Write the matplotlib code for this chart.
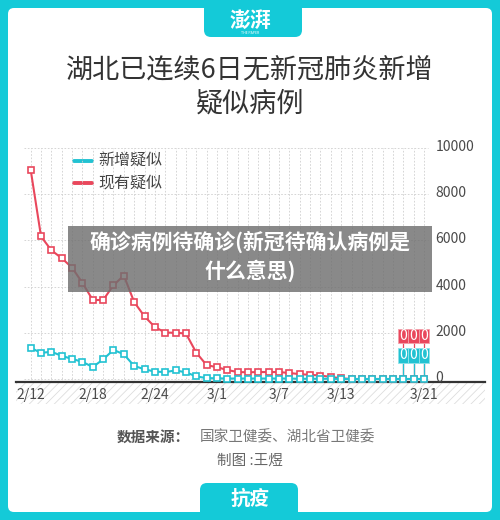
import matplotlib.pyplot as plt
import matplotlib.patches as mpatches
from matplotlib.lines import Line2D
import numpy as np

plt.rcParams['font.family'] = ['Noto Sans CJK SC', 'DejaVu Sans']
plt.rcParams['hatch.linewidth'] = 0.6

# data (Hubei, 2/12 - 3/21)
days = ['2/12', '2/13', '2/14', '2/15', '2/16', '2/17', '2/18', '2/19', '2/20', '2/21',
        '2/22', '2/23', '2/24', '2/25', '2/26', '2/27', '2/28', '2/29', '3/1', '3/2',
        '3/3', '3/4', '3/5', '3/6', '3/7', '3/8', '3/9', '3/10', '3/11', '3/12',
        '3/13', '3/14', '3/15', '3/16', '3/17', '3/18', '3/19', '3/20', '3/21']
new_suspected = [1350, 1130, 1180, 1000, 870, 740, 520, 850, 1260, 1070,
                 565, 420, 320, 300, 370, 290, 110, 40, 30, 20,
                 20, 20, 20, 20, 20, 20, 10, 10, 10, 10,
                 0, 0, 0, 0, 0, 0, 0, 0, 0]
existing_suspected = [9050, 6170, 5570, 5230, 4820, 4160, 3420, 3420, 4060, 4480,
                      3330, 2710, 2250, 2010, 2000, 1970, 1140, 600, 510, 390,
                      300, 290, 300, 300, 300, 260, 210, 180, 150, 90,
                      30, 0, 0, 0, 0, 0, 0, 0, 0]
tick_days = ['2/12', '2/18', '2/24', '3/1', '3/7', '3/13', '3/21']
y_ticks = [0, 2000, 4000, 6000, 8000, 10000]
labelled_days = ['3/19', '3/20', '3/21']

TEAL = '#14CAD8'
RED = '#E9475C'
CYAN = '#22C2D2'

W, H = 500, 520
fig = plt.figure(figsize=(5, 5.2), dpi=100)
fig.patch.set_facecolor(TEAL)

# background layer in pixel coordinates
bg = fig.add_axes([0, 0, 1, 1], zorder=-1)
bg.set_xlim(0, W)
bg.set_ylim(H, 0)
bg.axis('off')
bg.add_patch(mpatches.FancyBboxPatch((8, 8), 484, 504, boxstyle='round,pad=0,rounding_size=6',
                                     fc='white', ec='none'))
# top tab
bg.add_patch(mpatches.FancyBboxPatch((204, 2), 98, 35, boxstyle='round,pad=0,rounding_size=7',
                                     fc=TEAL, ec='none'))
bg.add_patch(mpatches.Rectangle((196, 0), 114, 8, fc=TEAL, ec='none'))
bg.text(250, 20, '澎湃', color='white', fontsize=15, fontweight='bold', style='italic',
        ha='center', va='center')
bg.text(250, 33, 'THE PAPER', color='white', fontsize=2.5, ha='center', va='center')
# bottom tab
bg.add_patch(mpatches.FancyBboxPatch((200, 483), 98, 40, boxstyle='round,pad=0,rounding_size=7',
                                     fc=TEAL, ec='none'))
bg.text(250, 499, '抗疫', color='white', fontsize=14, fontweight='bold',
        ha='center', va='center')

# title
bg.text(250, 71, '湖北已连续6日无新冠肺炎新增', color='#333333', fontsize=19.5,
        fontweight='medium', ha='center', va='center')
bg.text(250, 104, '疑似病例', color='#333333', fontsize=19.5,
        fontweight='medium', ha='center', va='center')

# hatched band under the axis
bg.add_patch(mpatches.Rectangle((16, 382), 469, 22, fc='white', ec='#dddddd', lw=0, hatch='////'))

# legend
bg.add_line(Line2D([74, 92], [161, 161], color=CYAN, lw=2.8, solid_capstyle='round'))
bg.add_line(Line2D([74, 92], [183, 183], color=RED, lw=2.8, solid_capstyle='round'))
bg.text(98, 161, '新增疑似', color='#444444', fontsize=11.5, va='center')
bg.text(98, 183, '现有疑似', color='#444444', fontsize=11.5, va='center')

# footer
bg.text(190, 437, '数据来源：', color='#555555', fontsize=10.5, fontweight='bold',
        ha='right', va='center')
bg.text(200, 437, '国家卫健委、湖北省卫健委', color='#777777', fontsize=10.5,
        ha='left', va='center')
bg.text(250, 461, '制图 :王煜', color='#666666', fontsize=10.5, ha='center', va='center')

# chart
x = np.arange(len(days))
ax = fig.add_axes([16 / W, 1 - 382 / H, 469 / W, 234 / H], zorder=1)
ax.patch.set_alpha(0)
ax.set_xlim(-1.42, 43.9)
ax.set_ylim(-130, 10000)
for s in ['top', 'left', 'right']:
    ax.spines[s].set_visible(False)
ax.spines['bottom'].set_color('#333333')
ax.spines['bottom'].set_linewidth(1.6)
ax.set_yticks([])
ax.set_xticks([days.index(d) for d in tick_days], tick_days)
ax.tick_params(axis='x', length=0, pad=4, labelsize=10, labelcolor='#4a4a4a')

ax.vlines(x, -130, 10000, colors='#cfcfcf', lw=0.6, linestyles=(0, (2, 2)), zorder=0)
ax.hlines(y_ticks, -0.6, 38.4, colors='#cfcfcf', lw=0.6, linestyles=(0, (2, 2)), zorder=0)
for v in y_ticks:
    ax.text(39.1, v + 40, str(v), fontsize=10, color='#4a4a4a', ha='left', va='center')

ax.plot(x, existing_suspected, color=RED, lw=1.5, marker='s', ms=4.5, mfc='white',
        mew=1.2, zorder=3)
ax.plot(x, new_suspected, color=CYAN, lw=1.5, marker='s', ms=4.5, mfc='white',
        mew=1.2, zorder=4)

# value labels on the last three days
box_h = 640
for d in labelled_days:
    i = days.index(d)
    ax.plot([i, i], [existing_suspected[i], 1860 - box_h / 2], color=RED, lw=0.9, zorder=2)
    ax.plot([i, i], [new_suspected[i], 1020 - box_h / 2], color=CYAN, lw=0.9, zorder=2)
    ax.add_patch(mpatches.Rectangle((i - 0.5, 1860 - box_h / 2), 1, box_h, fc=RED,
                                    ec='#f3a0aa', lw=0.6, zorder=5))
    ax.add_patch(mpatches.Rectangle((i - 0.5, 1020 - box_h / 2), 1, box_h, fc=CYAN,
                                    ec='#8fe3ea', lw=0.6, zorder=5))
    ax.text(i, 1860, str(existing_suspected[i]), color='white', fontsize=10,
            ha='center', va='center', zorder=6)
    ax.text(i, 1020, str(new_suspected[i]), color='white', fontsize=10,
            ha='center', va='center', zorder=6)

# gray overlay caption
ov = fig.add_axes([0, 0, 1, 1], zorder=5)
ov.set_xlim(0, W)
ov.set_ylim(H, 0)
ov.axis('off')
ov.add_patch(mpatches.Rectangle((68, 226), 364, 66, fc='#6f6f6f', alpha=0.82, ec='none'))
ov.text(250, 242, '确诊病例待确诊(新冠待确认病例是', color='white', fontsize=15,
        fontweight='bold', ha='center', va='center')
ov.text(250, 271, '什么意思)', color='white', fontsize=15,
        fontweight='bold', ha='center', va='center')

fig.savefig('out.png', dpi=100, facecolor=fig.get_facecolor())
